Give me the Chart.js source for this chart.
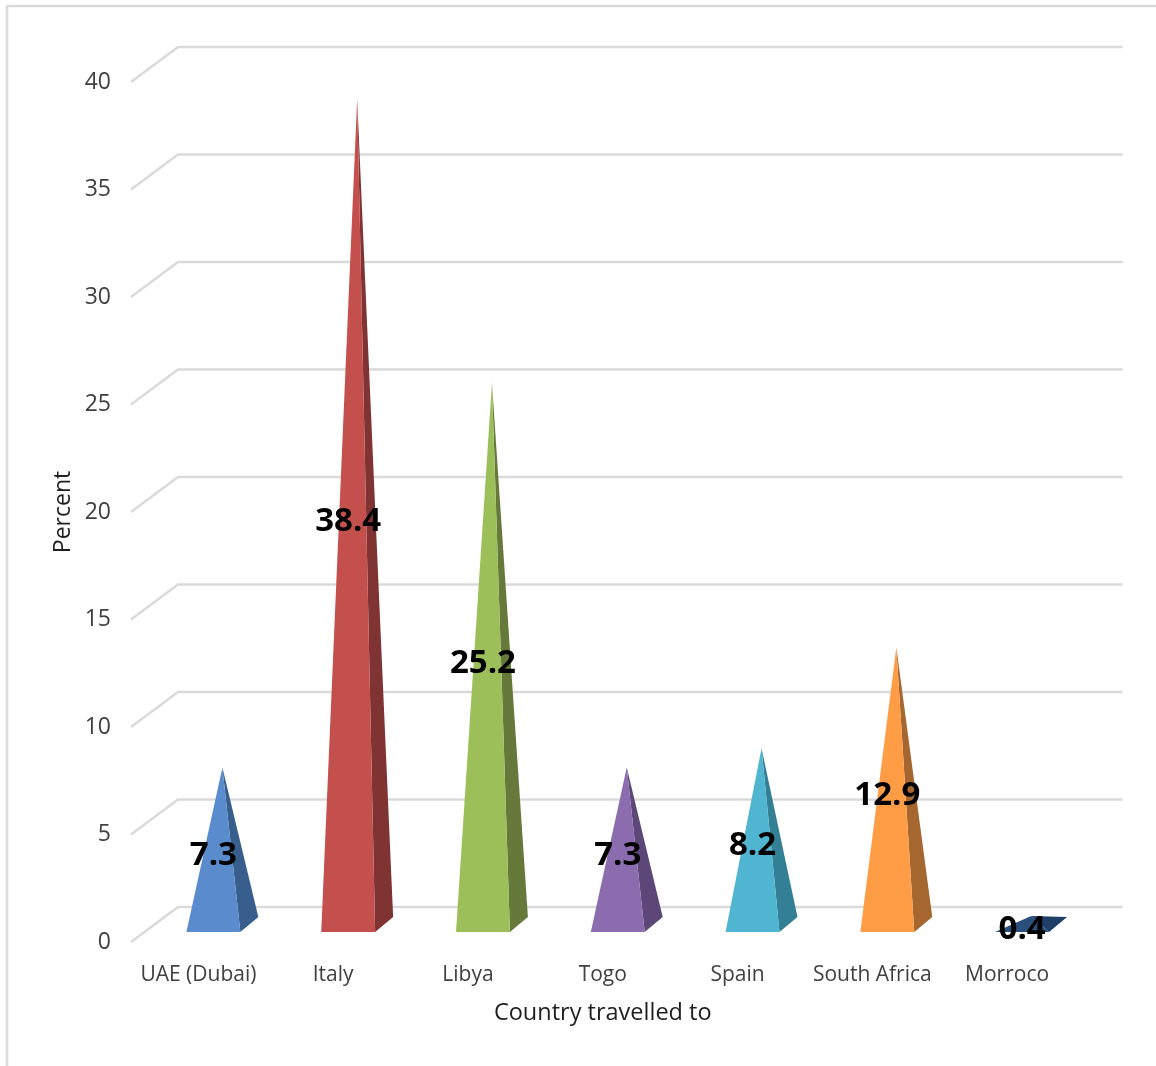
<!DOCTYPE html>
<html>
<head>
<meta charset="utf-8">
<style>
  html, body { margin: 0; padding: 0; background: #fff; }
  canvas { display: block; }
</style>
<script src="https://cdn.jsdelivr.net/npm/chart.js@4"></script>
</head>
<body>
<canvas id="chart" width="1156" height="1066"></canvas>
<script>
const categories = ['UAE (Dubai)', 'Italy', 'Libya', 'Togo', 'Spain', 'South Africa', 'Morroco'];
const percents = [7.3, 38.4, 25.2, 7.3, 8.2, 12.9, 0.4];
const frontColors = ['#5a8ccd', '#c4504e', '#9dbf5a', '#8b6daf', '#4fb5d0', '#ff9d47', '#2a4f7d'];
const sideColors = ['#375e8d', '#7f3333', '#66793a', '#5c4778', '#337f95', '#a5672f', '#1f3f68'];
const yTicks = [0, 5, 10, 15, 20, 25, 30, 35, 40];

const GRID = '#dadada';
// Projection of the box: floor depth, and where the pyramids stand inside it.
const WALL = { dx: 47, dy: -35 };
const INSET = { dx: 15, dy: -10 };
const DEPTH = { dx: 18, dy: -15 };

const wallGrid = {
  id: 'wallGrid',
  beforeDraw(chart) {
    const { ctx } = chart;
    ctx.save();
    ctx.strokeStyle = GRID;
    ctx.lineWidth = 2.5;
    ctx.beginPath();
    ctx.moveTo(7, 1066);
    ctx.lineTo(7, 6);
    ctx.lineTo(1156, 6);
    ctx.stroke();
    ctx.restore();
  },
  beforeDatasetsDraw(chart) {
    const { ctx, chartArea, scales } = chart;
    ctx.save();
    ctx.strokeStyle = GRID;
    ctx.lineWidth = 2.5;
    ctx.lineJoin = 'round';
    for (const value of yTicks) {
      const y = scales.y.getPixelForValue(value);
      ctx.beginPath();
      ctx.moveTo(chartArea.left, y);
      ctx.lineTo(chartArea.left + WALL.dx, y + WALL.dy);
      ctx.lineTo(chartArea.right + WALL.dx + 1, y + WALL.dy);
      ctx.stroke();
    }
    ctx.restore();
  }
};

function fillPoly(ctx, color, pts) {
  ctx.fillStyle = color;
  ctx.beginPath();
  pts.forEach((p, i) => (i ? ctx.lineTo(p[0], p[1]) : ctx.moveTo(p[0], p[1])));
  ctx.closePath();
  ctx.fill();
}

// Replaces the flat bars with pyramids built from the bar elements' geometry.
const pyramids = {
  id: 'pyramids',
  beforeDatasetDraw(chart, args) {
    const { ctx } = chart;
    args.meta.data.forEach((bar, i) => {
      const half = bar.width / 2;
      const left = bar.x - half + INSET.dx;
      const right = bar.x + half + INSET.dx;
      const baseY = bar.base + INSET.dy;
      const apex = [bar.x + INSET.dx + DEPTH.dx / 2, bar.y + INSET.dy + DEPTH.dy / 2];
      fillPoly(ctx, sideColors[i], [[right, baseY], [right + DEPTH.dx, baseY + DEPTH.dy], apex]);
      fillPoly(ctx, bar.options.backgroundColor, [[left, baseY], [right, baseY], apex]);
    });
    return false;
  },
  afterDatasetsDraw(chart) {
    const { ctx, scales } = chart;
    const meta = chart.getDatasetMeta(0);
    ctx.save();
    ctx.font = 'bold 33px "Open Sans"';
    ctx.fillStyle = '#000';
    ctx.textAlign = 'center';
    ctx.textBaseline = 'middle';
    percents.forEach((value, i) => {
      const y = scales.y.getPixelForValue(value / 2) + INSET.dy + 2;
      ctx.fillText(String(value), meta.data[i].x + INSET.dx, y);
    });
    ctx.restore();
  }
};

new Chart(document.getElementById('chart'), {
  type: 'bar',
  data: {
    labels: categories,
    datasets: [{
      label: 'Percent',
      data: percents,
      backgroundColor: frontColors,
      barPercentage: 0.4,
      categoryPercentage: 1
    }]
  },
  plugins: [wallGrid, pyramids],
  options: {
    responsive: false,
    animation: false,
    layout: { padding: { left: 50, right: 81.5, top: 82, bottom: 39 } },
    plugins: { legend: { display: false }, tooltip: { enabled: false } },
    scales: {
      x: {
        afterFit(scale) { scale.height = 85; },
        grid: { display: false },
        border: { display: false },
        ticks: { color: '#404040', font: { family: 'Open Sans', size: 21 }, padding: 12, maxRotation: 0, autoSkip: false },
        title: { display: true, text: 'Country travelled to', color: '#1f1f1f', font: { family: 'Open Sans', size: 23.5 }, padding: { top: 8, bottom: 0 } }
      },
      y: {
        min: 0,
        max: 40,
        afterBuildTicks(scale) { scale.ticks = yTicks.map(value => ({ value })); },
        afterFit(scale) { scale.width = 81; },
        grid: { display: false },
        border: { display: false },
        ticks: { color: '#404040', font: { family: 'Open Sans', size: 23 }, padding: 12 },
        title: { display: true, text: 'Percent', color: '#1f1f1f', font: { family: 'Open Sans', size: 23 }, padding: { top: 0, bottom: 0 } }
      }
    }
  }
});
</script>
</body>
</html>
